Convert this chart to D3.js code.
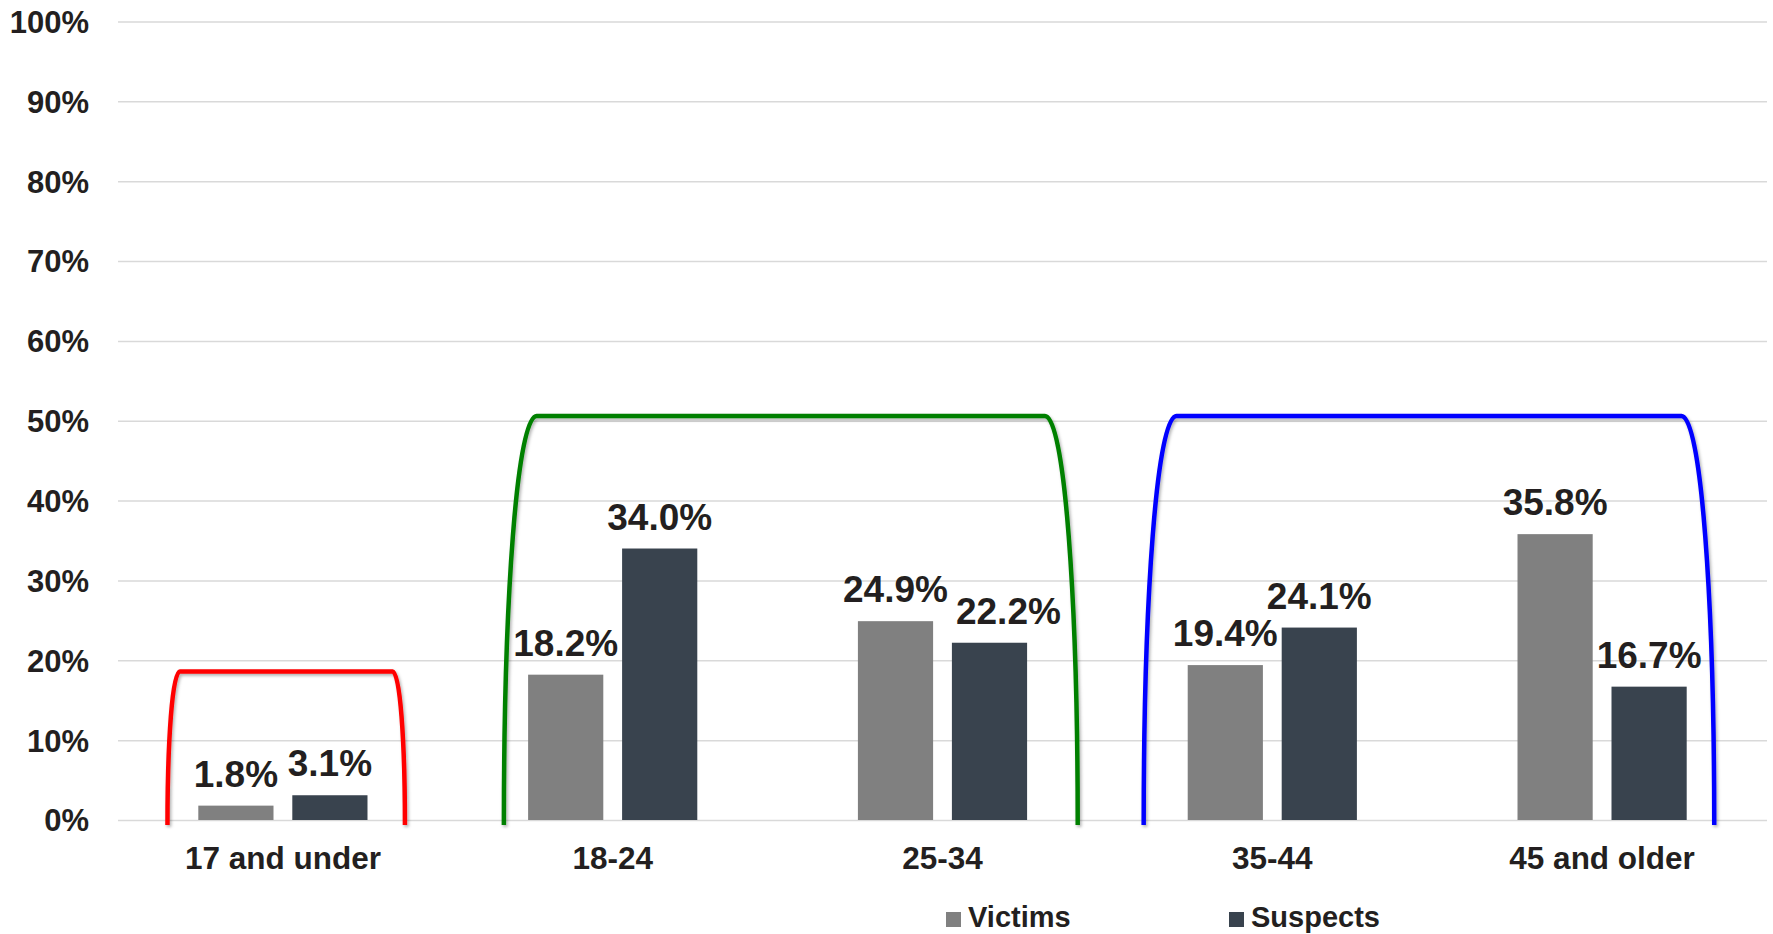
<!DOCTYPE html>
<html>
<head>
<meta charset="utf-8">
<script src="https://cdn.jsdelivr.net/npm/d3@7"></script>
<style>
  html, body { margin: 0; padding: 0; background: #ffffff; }
  svg { display: block; }
  text { font-family: "Liberation Sans", Arial, sans-serif; font-weight: bold; fill: #231f20; }
</style>
</head>
<body>
<svg id="chart" width="1773" height="934"></svg>
<script>
// Age groups and share of victims / suspects (percent)
const categories = ["17 and under", "18-24", "25-34", "35-44", "45 and older"];
const seriesNames = ["Victims", "Suspects"];
const victims  = [1.8, 18.2, 24.9, 19.4, 35.8];
const suspects = [3.1, 34.0, 22.2, 24.1, 16.7];
const yTicks = [0, 10, 20, 30, 40, 50, 60, 70, 80, 90, 100];

// Bracket annotations grouping age ranges: span in category-index units, level in percent
const bracketSpans  = [[-0.35, 0.37], [0.67, 2.41], [2.61, 4.34]];
const bracketLevels = [18.6, 50.6, 50.6];
const bracketColors = ["#ff0000", "#008000", "#0000ff"];

const seriesColors = ["#808080", "#39434e"];

const svg = d3.select("#chart");
const plotLeft = 118, plotRight = 1767, plotTop = 21.5, plotBottom = 820;

const y = d3.scaleLinear().domain([0, 100]).range([plotBottom, plotTop]);
const x0 = d3.scaleBand().domain(categories).range([plotLeft, plotRight])
  .paddingInner(0.487).paddingOuter(0.2435);
const x1 = d3.scaleBand().domain(seriesNames).range([0, x0.bandwidth()]).paddingInner(0.2);
const xIdx = d3.scaleLinear().domain([-0.5, categories.length - 0.5]).range([plotLeft, plotRight]);

// Horizontal gridlines with percent labels
const yAxis = d3.axisLeft(y).tickValues(yTicks).tickSize(-(plotRight - plotLeft)).tickFormat(d => d + "%");
const gy = svg.append("g").attr("transform", `translate(${plotLeft},0)`).call(yAxis);
gy.select(".domain").remove();
gy.selectAll(".tick line").attr("stroke", "#d9d9d9").attr("stroke-width", 1.5);
gy.selectAll(".tick text")
  .attr("x", -29).attr("dy", "0.35em")
  .style("font-size", "31px").attr("fill", "#231f20");

// Category labels
const xAxis = d3.axisBottom(x0).tickSize(0).tickPadding(0);
const gx = svg.append("g").attr("transform", `translate(0,${plotBottom})`).call(xAxis);
gx.select(".domain").remove();
gx.selectAll(".tick text").attr("y", 49).attr("dy", 0)
  .style("font-size", "31.5px").attr("fill", "#231f20");

// Bars
const rows = categories.map((c, i) => ({ cat: c, vals: [victims[i], suspects[i]] }));
const groups = svg.append("g").selectAll("g").data(rows).join("g")
  .attr("transform", d => `translate(${x0(d.cat)},0)`);

groups.selectAll("rect").data(d => d.vals.map((v, k) => ({ s: seriesNames[k], v, k })))
  .join("rect")
  .attr("x", d => x1(d.s))
  .attr("width", x1.bandwidth())
  .attr("y", d => y(d.v))
  .attr("height", d => y(0) - y(d.v))
  .attr("fill", d => seriesColors[d.k]);

// Value labels, centred over each bar
const labelFont = 37, labelGap = 19, labelSep = 8;
groups.each(function () {
  const g = d3.select(this);
  const labels = g.selectAll("text.val").data(d => d.vals.map((v, k) => ({ s: seriesNames[k], v, k })))
    .join("text").attr("class", "val")
    .attr("x", d => x1(d.s) + x1.bandwidth() / 2)
    .attr("y", d => y(d.v) - labelGap)
    .attr("text-anchor", "middle")
    .style("font-size", labelFont + "px")
    .text(d => d.v.toFixed(1) + "%");
  // Push the second label right when it would collide with the first
  const nodes = labels.nodes();
  const a = nodes[0], b = nodes[1];
  const ax = +a.getAttribute("x"), bx = +b.getAttribute("x");
  const aw = a.getComputedTextLength(), bw = b.getComputedTextLength();
  const ay = +a.getAttribute("y"), by = +b.getAttribute("y");
  const capH = labelFont * 0.72;
  if (Math.abs(ay - by) < capH) {
    const aRight = ax + aw / 2, bLeft = bx - bw / 2;
    if (bLeft < aRight + labelSep) b.setAttribute("x", bx + (aRight + labelSep - bLeft));
  }
});

// Bracket shadow filter
const defs = svg.append("defs");
const f = defs.append("filter").attr("id", "shadow").attr("x", "-10%").attr("y", "-10%")
  .attr("width", "120%").attr("height", "120%");
f.append("feDropShadow").attr("dx", 1.5).attr("dy", 2).attr("stdDeviation", 1.5)
  .attr("flood-color", "#000").attr("flood-opacity", 0.3);

// Brackets
const yBase = y(0) + 5;
bracketSpans.forEach((span, i) => {
  const xl = xIdx(span[0]), xr = xIdx(span[1]);
  const yt = y(bracketLevels[i]);
  const h = yBase - yt;
  const dx = h * 0.08;
  const p = d3.path();
  p.moveTo(xl, yBase);
  p.bezierCurveTo(xl, yt + h * 0.45, xl + dx * 0.4, yt, xl + dx, yt);
  p.lineTo(xr - dx, yt);
  p.bezierCurveTo(xr - dx * 0.4, yt, xr, yt + h * 0.45, xr, yBase);
  svg.append("path").attr("d", p.toString())
    .attr("fill", "none").attr("stroke", bracketColors[i]).attr("stroke-width", 4.5)
    .attr("filter", "url(#shadow)");
});

// Legend
const legend = svg.append("g").attr("transform", "translate(0,927)");
const legendX = [946, 1229];
seriesNames.forEach((s, k) => {
  legend.append("rect").attr("x", legendX[k]).attr("y", -15).attr("width", 15).attr("height", 15)
    .attr("fill", seriesColors[k]);
  legend.append("text").attr("x", legendX[k] + 22).attr("y", 0)
    .style("font-size", "29px").text(s);
});
</script>
</body>
</html>
